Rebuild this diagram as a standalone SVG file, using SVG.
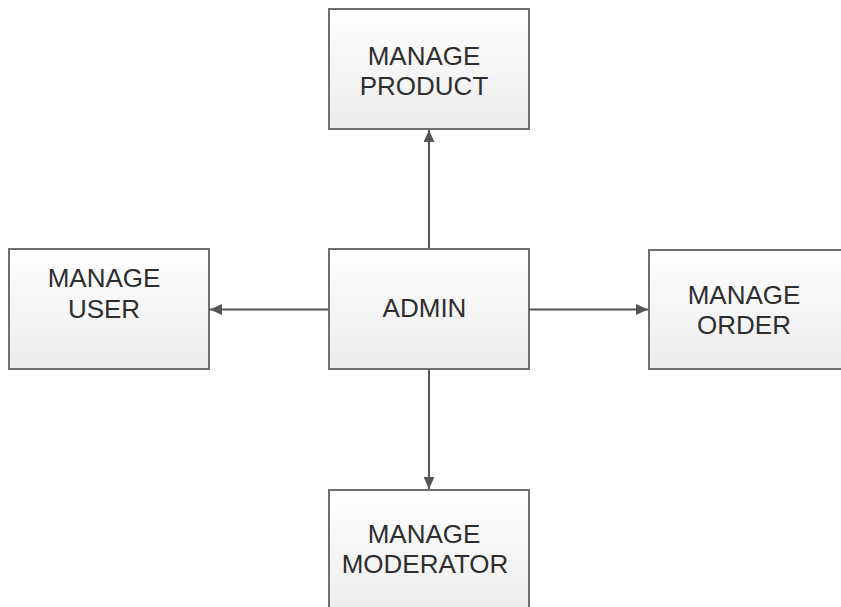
<svg xmlns="http://www.w3.org/2000/svg" width="841" height="607" viewBox="0 0 841 607">
<style>
.box{fill:url(#g);stroke:#6f6f6f;stroke-width:2}
.t{font-family:"Liberation Sans",Arial,sans-serif;font-size:26px;fill:#2e2e2e;text-anchor:middle}
.c{stroke:#555;stroke-width:2;fill:none;marker-end:url(#ah)}
</style>
<defs>
<linearGradient id="g" x1="0" y1="0" x2="0" y2="1">
<stop offset="0" stop-color="#ffffff"/>
<stop offset="1" stop-color="#ececec"/>
</linearGradient>
<marker id="ah" viewBox="0 0 12 11" refX="12" refY="5.5" markerWidth="12" markerHeight="11" markerUnits="userSpaceOnUse" orient="auto">
<path d="M0,0 L12,5.5 L0,11 Z" fill="#555"/>
</marker>
</defs>
<rect width="841" height="607" fill="#fff"/>
<g id="connectors">
<line class="c" x1="429" y1="249" x2="429" y2="130"/>
<line class="c" x1="329" y1="309.5" x2="210" y2="309.5"/>
<line class="c" x1="529" y1="309.5" x2="648" y2="309.5"/>
<line class="c" x1="429" y1="369" x2="429" y2="489"/>
</g>
<g id="product">
<rect class="box" x="329" y="9" width="200" height="120"/>
<text class="t" x="424" y="65">MANAGE</text>
<text class="t" x="424" y="95">PRODUCT</text>
</g>
<g id="user">
<rect class="box" x="9" y="249" width="200" height="120"/>
<text class="t" x="104" y="287">MANAGE</text>
<text class="t" x="104" y="318">USER</text>
</g>
<g id="admin">
<rect class="box" x="329" y="249" width="200" height="120"/>
<text class="t" x="424.5" y="317">ADMIN</text>
</g>
<g id="order">
<rect class="box" x="649" y="250" width="205" height="119"/>
<text class="t" x="744" y="304">MANAGE</text>
<text class="t" x="744" y="334">ORDER</text>
</g>
<g id="moderator">
<rect class="box" x="329" y="490" width="200" height="130"/>
<text class="t" x="424" y="543">MANAGE</text>
<text class="t" x="425" y="573">MODERATOR</text>
</g>
</svg>
